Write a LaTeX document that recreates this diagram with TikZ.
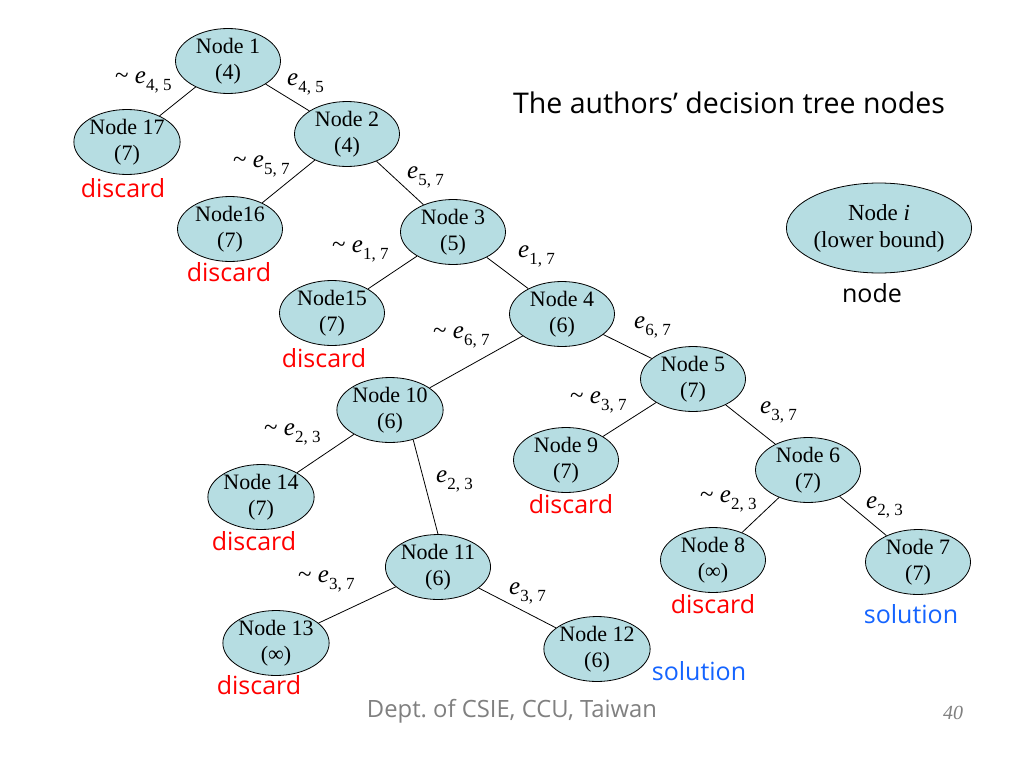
\documentclass[tikz,border=0pt]{standalone}
\usepackage{fontspec}
\setmainfont{Liberation Serif}
\newfontfamily\comic{Open Sans}
\usetikzlibrary{shapes.geometric}
\definecolor{nodefill}{RGB}{182,221,226}
\definecolor{discardred}{RGB}{255,0,0}
\definecolor{solblue}{RGB}{20,100,255}
\definecolor{footgray}{RGB}{128,128,128}
\tikzset{
  tn/.style={ellipse, draw=black, line width=0.8pt, fill=nodefill,
    minimum width=105, minimum height=64, inner sep=0pt, align=center,
    font=\fontsize{22}{26}\selectfont},
  edgeline/.style={draw=black, line width=0.8pt},
  elabel/.style={anchor=base west, inner sep=0pt, font=\fontsize{25}{30}\selectfont},
  status/.style={anchor=base, inner sep=0pt, font=\comic\fontsize{25}{29}\selectfont},
  discardlbl/.style={status, text=discardred},
  sollbl/.style={status, text=solblue}
}
\newcommand{\edgesub}[1]{\raisebox{-7pt}{\fontsize{17}{17}\selectfont #1}}
\newcommand{\notE}[1]{\textasciitilde\ \textit{e}\edgesub{#1}}
\newcommand{\yesE}[1]{\textit{e}\edgesub{#1}}
\begin{document}
\begin{tikzpicture}[x=1pt,y=-1pt]
\useasboundingbox[fill=white] (0,0) rectangle (1024,768);
% nodes
\node[tn] (n1)  at (228,61)  {Node 1\\(4)};
\node[tn] (n17) at (127,142) {Node 17\\(7)};
\node[tn] (n2)  at (347,134) {Node 2\\(4)};
\node[tn] (n16) at (230,229) {Node16\\(7)};
\node[tn] (n3)  at (453,232) {Node 3\\(5)};
\node[tn] (n15) at (332,313) {Node15\\(7)};
\node[tn] (n4)  at (562,314) {Node 4\\(6)};
\node[tn] (n5)  at (693,379) {Node 5\\(7)};
\node[tn] (n10) at (390,410) {Node 10\\(6)};
\node[tn] (n9)  at (566,460) {Node 9\\(7)};
\node[tn] (n6)  at (808,470) {Node 6\\(7)};
\node[tn] (n14) at (261,497) {Node 14\\(7)};
\node[tn] (n11) at (438,567) {Node 11\\(6)};
\node[tn] (n8)  at (713,560) {Node 8\\(∞)};
\node[tn] (n7)  at (918,562) {Node 7\\(7)};
\node[tn] (n13) at (276,643) {Node 13\\(∞)};
\node[tn] (n12) at (597,649) {Node 12\\(6)};
\node[tn, minimum width=152, minimum height=90, font=\fontsize{23}{27}\selectfont] (ni) at (879,228) {Node \textit{i}\\(lower bound)};
% connectors
\draw[edgeline] (n1) -- (n17);
\draw[edgeline] (n1) -- (n2);
\draw[edgeline] (n2) -- (n16);
\draw[edgeline] (n2) -- (n3);
\draw[edgeline] (n3) -- (n15);
\draw[edgeline] (n3) -- (n4);
\draw[edgeline] (n4) -- (n10);
\draw[edgeline] (n4) -- (n5);
\draw[edgeline] (n5) -- (n9);
\draw[edgeline] (n5) -- (n6);
\draw[edgeline] (n6) -- (n8);
\draw[edgeline] (n6) -- (n7);
\draw[edgeline] (n10) -- (n14);
\draw[edgeline] (n10.-52) -- (n11.north);
\draw[edgeline] (n11) -- (n13);
\draw[edgeline] (n11) -- (n12);
% edge labels
\node[elabel] (l1)  at (115,83)  {\notE{4, 5}};
\node[elabel] (l2)  at (287,85)  {\yesE{4, 5}};
\node[elabel] (l3)  at (233,167) {\notE{5, 7}};
\node[elabel] (l4)  at (407,178) {\yesE{5, 7}};
\node[elabel] (l5)  at (332,252) {\notE{1, 7}};
\node[elabel] (l6)  at (518,257) {\yesE{1, 7}};
\node[elabel] (l7)  at (433,338) {\notE{6, 7}};
\node[elabel] (l8)  at (634,328) {\yesE{6, 7}};
\node[elabel] (l9)  at (570,403) {\notE{3, 7}};
\node[elabel] (l10) at (760,413) {\yesE{3, 7}};
\node[elabel] (l11) at (700,502) {\notE{2, 3}};
\node[elabel] (l12) at (866,508) {\yesE{2, 3}};
\node[elabel] (l13) at (264,435) {\notE{2, 3}};
\node[elabel] (l14) at (436,482) {\yesE{2, 3}};
\node[elabel] (l15) at (298,582) {\notE{3, 7}};
\node[elabel] (l16) at (509,594) {\yesE{3, 7}};
% status labels
\node[discardlbl] (d17) at (123,197) {discard};
\node[discardlbl] (d16) at (229,281) {discard};
\node[discardlbl] (d15) at (324,367) {discard};
\node[discardlbl] (d14) at (254,550) {discard};
\node[discardlbl] (d13) at (259,694) {discard};
\node[discardlbl] (d9)  at (571,513) {discard};
\node[discardlbl] (d8)  at (713,613) {discard};
\node[sollbl] (s7)  at (911,623) {solution};
\node[sollbl] (s12) at (699,680) {solution};
\node[status] (nodelbl) at (872,302) {node};
% title and footer
\node[anchor=base, inner sep=0pt, font=\comic\fontsize{28.5}{33}\selectfont] (title) at (729,113) {The authors’ decision tree nodes};
\node[anchor=base, inner sep=0pt, text=footgray, font=\comic\fontsize{23.8}{28}\selectfont] (dept) at (512,717) {Dept.\ of CSIE, CCU, Taiwan};
\node[anchor=base, inner sep=0pt, text=footgray, font=\itshape\fontsize{20}{24}\selectfont] (pg) at (953,719) {40};
\end{tikzpicture}
\end{document}
